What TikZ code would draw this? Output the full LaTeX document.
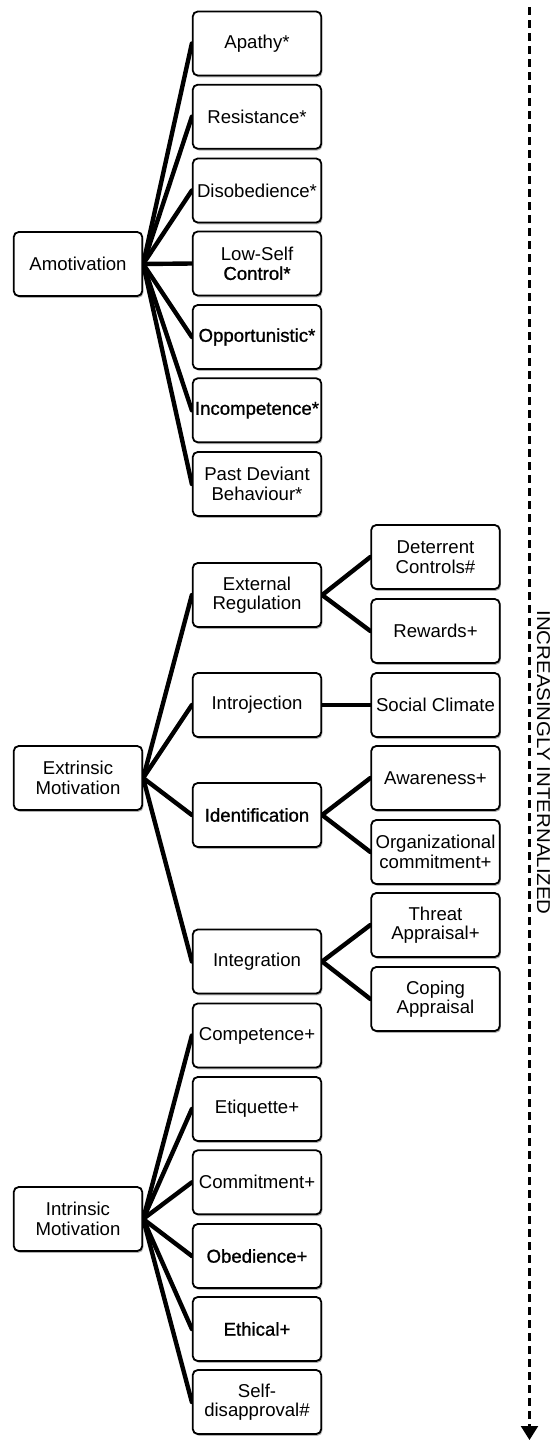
\documentclass[tikz,border=0pt]{standalone}
\usepackage{fontspec}
\setmainfont{Liberation Sans}
\newfontfamily\semib[FakeBold=1]{Liberation Sans}
\usetikzlibrary{arrows.meta,shadows,backgrounds}
\begin{document}
\begin{tikzpicture}[x=1pt,y=-1pt,
  box/.style={draw=black, line width=1.8pt, rounded corners=5pt, fill=white,
    minimum width=128.5pt, minimum height=64pt, align=center, inner sep=1pt,
    font=\fontsize{18.6}{19.5}\selectfont,
    drop shadow={shadow xshift=1.2pt, shadow yshift=-1.8pt, opacity=0.3, fill=black}},
  link/.style={line width=4.4pt, line cap=round},
  guide/.style={line width=2.2pt, dash pattern=on 8pt off 5pt},
  lbl/.style={font=\fontsize{18.6}{19.5}\selectfont, rotate=-90, inner sep=0pt}]
\useasboundingbox (0,0) rectangle (555,1440);

% left column
\node[box] (amo) at (78,264) {Amotivation};
\node[box] (ext) at (78,778) {Extrinsic\\Motivation};
\node[box] (int) at (78,1219) {Intrinsic\\Motivation};

% middle column
\node[box] (apa) at (257,43.5) {Apathy*};
\node[box] (res) at (257,116.7) {Resistance*};
\node[box] (dis) at (257,190.5) {Disobedience*};
\node[box] (low) at (257,263.5) {Low-Self\\{\semib Control*}};
\node[box] (opp) at (257,337) {\semib Opportunistic*};
\node[box] (inc) at (257,410.3) {\semib Incompetence*};
\node[box] (pas) at (257,484) {Past Deviant\\Behaviour*};

\node[box] (exr) at (257,595) {External\\Regulation};
\node[box] (itj) at (257,705) {Introjection};
\node[box] (idn) at (257,815) {\semib Identification};
\node[box] (itg) at (257,961.5) {Integration};

\node[box] (com) at (257,1035.5) {Competence+};
\node[box] (eti) at (257,1109) {Etiquette+};
\node[box] (cmt) at (257,1182.3) {Commitment+};
\node[box] (obe) at (257,1256) {\semib Obedience+};
\node[box] (eth) at (257,1329) {\semib Ethical+};
\node[box] (sel) at (257,1402) {Self-\\disapproval\#};

% right column
\node[box] (det) at (435.5,557) {Deterrent\\Controls\#};
\node[box] (rew) at (435.5,631) {Rewards+};
\node[box] (soc) at (435.5,705) {Social Climate};
\node[box] (awa) at (435.5,778) {Awareness+};
\node[box] (org) at (435.5,852) {Organizational\\commitment+};
\node[box] (thr) at (435.5,925) {Threat\\Appraisal+};
\node[box] (cop) at (435.5,999) {Coping\\Appraisal};

% connectors
\begin{scope}[on background layer]
\foreach \c in {apa,res,dis,low,opp,inc,pas}
  \draw[link] (amo.east) -- (\c.west);
\foreach \c in {exr,itj,idn,itg}
  \draw[link] (ext.east) -- (\c.west);
\foreach \c in {com,eti,cmt,obe,eth,sel}
  \draw[link] (int.east) -- (\c.west);
\draw[link] (exr.east) -- (det.west);
\draw[link] (exr.east) -- (rew.west);
\draw[link] (itj.east) -- (soc.west);
\draw[link] (idn.east) -- (awa.west);
\draw[link] (idn.east) -- (org.west);
\draw[link] (itg.east) -- (thr.west);
\draw[link] (itg.east) -- (cop.west);
\end{scope}

% increasing arrow
\coordinate (arrTop) at (529.5,7);
\coordinate (arrEnd) at (529.5,1440);
\draw[guide, -{Triangle[length=14pt,width=17pt]}] (arrTop) -- (arrEnd);
\node[lbl] (inl) at (543.5,762.5) {\scalebox{1.1}[1]{INCREASINGLY INTERNALIZED}};
\end{tikzpicture}
\end{document}
